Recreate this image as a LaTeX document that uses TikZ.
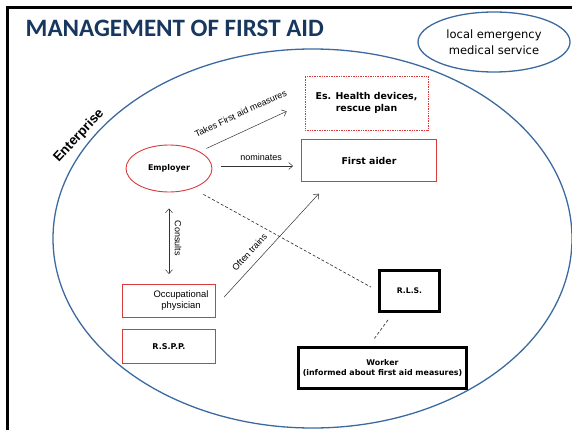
\documentclass[tikz,border=0pt]{standalone}
\usepackage{fontspec}
\setmainfont{Liberation Sans}
\newfontfamily\titlefont{Carlito}
\newfontfamily\boxfont{DejaVu Sans}
\usetikzlibrary{arrows.meta,calc,shapes.geometric}
\definecolor{navy}{HTML}{17375E}
\definecolor{steel}{HTML}{3C6AA0}
\definecolor{boxred}{HTML}{D83B3B}
\tikzset{
    redbox/.style={draw=boxred, line width=0.9pt, inner sep=0pt},
    blackbox/.style={draw=black, line width=3pt, inner sep=0pt},
    arrowline/.style={draw=black!80, line width=0.5pt},
    dashline/.style={draw=black!85, line width=0.6pt, dash pattern=on 3pt off 2pt},
    lbl/.style={inner sep=0pt, font=\fontsize{9}{11}\selectfont},
    boxlbl/.style={font=\boxfont\bfseries\fontsize{#1}{#1}\selectfont},
    >={Straight Barb[length=4pt,width=7pt]}
}
\begin{document}
\begin{tikzpicture}[x=1pt, y=-1pt]
        \useasboundingbox (0,0) rectangle (572,430);
        \draw[line width=2.7pt] (7.5,440) -- (7.5,7.5) -- (580,7.5);
        \node[anchor=base west, inner sep=0pt, text=navy, font=\titlefont\bfseries\fontsize{25}{30}\selectfont] (title) at (25.5,37) {MANAGEMENT OF FIRST AID};
        \draw[steel, line width=1.3pt] (312.5,238.5) ellipse [x radius=259.5, y radius=189.5];
        \node[ellipse, draw=steel, line width=1.3pt, minimum width=152pt, minimum height=60pt, align=center, font=\boxfont\fontsize{11.5}{15.7}\selectfont] (LEMS) at (494,42) {local emergency\\medical service};
        \node[rotate=47, font=\bfseries\fontsize{13.5}{16}\selectfont] (ENT) at (79,136) {Enterprise};
        \node[ellipse, draw=boxred, line width=0.9pt, minimum width=86pt, minimum height=47pt, boxlbl=7.9] (E) at (169,168.5) {Employer};
        \node[draw=boxred, line width=0.7pt, densely dotted, minimum width=123pt, minimum height=54pt, align=center, boxlbl=9.4, font=\boxfont\bfseries\fontsize{9.4}{12.3}\selectfont] (HD) at (366.5,103) {Es. Health devices,\\rescue plan};
        \node[redbox, minimum width=135pt, minimum height=42pt, boxlbl=9.4] (FA) at (369,160.5) {First aider};
        \node[redbox, minimum width=93pt, minimum height=33pt] (OP) at (169,301) {};
        \node[lbl, align=center, font=\fontsize{9.4}{11}\selectfont] (OPtext) at ([xshift=12pt]OP.center) {Occupational\\physician};
        \node[redbox, minimum width=93pt, minimum height=34pt, boxlbl=8] (RSPP) at (169,346.5) {R.S.P.P.};
        \node[blackbox, minimum width=60pt, minimum height=41pt, boxlbl=7.7] (RLS) at (409.5,291) {R.L.S.};
        \node[blackbox, minimum width=168pt, minimum height=41pt, align=center, font=\boxfont\bfseries\fontsize{7.9}{9.5}\selectfont] (W) at (382.5,368) {Worker\\(informed about first aid measures)};
        % connectors
        \draw[arrowline, ->, shorten <=7.3pt, shorten >=19.8pt] (E.north east) -- (HD.west) node[lbl, pos=0.46, sloped, above=14pt] {Takes First aid measures};
        \draw[arrowline, ->, shorten <=9pt, shorten >=8pt] ([yshift=2.5pt]E.east) -- ([yshift=2.5pt]E.east -| FA.west) node[lbl, pos=0.55, above=5.5pt] {nominates};
        \draw[arrowline, <->, shorten <=16pt, shorten >=10pt] (E.south) -- (OP.north) node[lbl, midway, sloped, above=5.5pt] {Consults};
        \draw[arrowline, ->, shorten <=12pt, shorten >=16pt] (OP.-6) -- ($(FA.south west)!0.21!(FA.south east)$) node[lbl, pos=0.37, sloped, above=8pt] {Often trains};
        \draw[dashline, shorten <=12pt, shorten >=8pt] (E.-40) -- (RLS.west);
        \draw[dashline, shorten <=8.6pt, shorten >=8.6pt] ($(RLS.south west)!0.24!(RLS.south east)$) -- ($(W.north west)!0.42!(W.north east)$);
    \end{tikzpicture}
\end{document}
